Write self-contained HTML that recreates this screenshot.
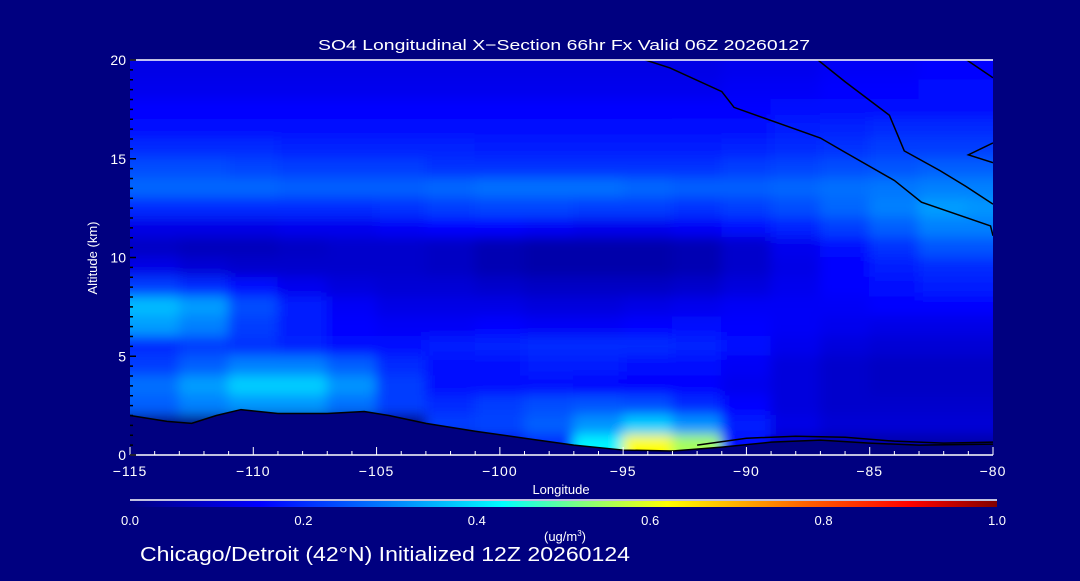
<!DOCTYPE html>
<html><head><meta charset="utf-8">
<style>
body{margin:0;background:#000080;width:1080px;height:576px;overflow:hidden;font-family:"Liberation Sans",sans-serif;}
svg text{fill:#fff;font-family:"Liberation Sans",sans-serif;}
</style></head>
<body>
<svg id="chart" width="1080" height="576" xmlns="http://www.w3.org/2000/svg">
<defs>
<filter id="blur" x="-0.1" y="-0.1" width="1.2" height="1.2"><feGaussianBlur stdDeviation="6"/></filter>
<clipPath id="plotclip"><rect x="130" y="60" width="863" height="395"/></clipPath>
<linearGradient id="cbar" x1="0" x2="1" y1="0" y2="0">
<stop offset="0" stop-color="#000080"/><stop offset="0.15" stop-color="#0000ff"/><stop offset="0.3" stop-color="#0080ff"/><stop offset="0.43" stop-color="#00ffff"/><stop offset="0.52" stop-color="#80ff80"/><stop offset="0.62" stop-color="#ffff00"/><stop offset="0.78" stop-color="#ff6000"/><stop offset="0.9" stop-color="#ff0000"/><stop offset="1" stop-color="#800000"/>
</linearGradient>
</defs>
<rect x="130" y="60" width="863" height="395" fill="#000080"/>
<g id="cells" clip-path="url(#plotclip)"><g id="cellsInner" filter="url(#blur)"></g></g>
<g id="contours" clip-path="url(#plotclip)"></g>
<g id="axes"></g>
<text x="318" y="50" font-size="15" textLength="492" lengthAdjust="spacingAndGlyphs">SO4 Longitudinal X−Section 66hr  Fx Valid 06Z 20260127</text>
<text x="97" y="258" font-size="13" text-anchor="middle" transform="rotate(-90 97 258)">Altitude (km)</text>
<text x="561" y="494" font-size="13" text-anchor="middle">Longitude</text>
<line x1="130" y1="500" x2="997" y2="500" stroke="#fff" stroke-width="1.5"/>
<rect x="130" y="501" width="867" height="6" fill="url(#cbar)"/>
<g id="cbticks"></g>
<text x="565" y="541" font-size="13" text-anchor="middle">(ug/m<tspan dy="-5" font-size="8">3</tspan><tspan dy="5">)</tspan></text>
<text x="140" y="561" font-size="20" textLength="490" lengthAdjust="spacingAndGlyphs" fill="#fff">Chicago/Detroit (42°N) Initialized 12Z 20260124</text>
</svg>
<script>
const lonEdges=[-115,-113,-111,-109,-107,-105,-103,-101,-99,-97,-95,-93,-91,-89,-87,-85,-83,-81,-80];
const altRows=[19,18,17,16,15,14,13,12,11,10,9,8,7,6,5,4,3,2,1,0];
const so4=[
[0.12,0.12,0.12,0.12,0.12,0.12,0.12,0.12,0.12,0.12,0.12,0.12,0.13,0.13,0.14,0.14,0.15,0.15],
[0.13,0.13,0.13,0.13,0.13,0.13,0.13,0.13,0.13,0.13,0.13,0.13,0.14,0.14,0.15,0.15,0.16,0.16],
[0.15,0.15,0.15,0.15,0.15,0.15,0.15,0.15,0.15,0.15,0.15,0.15,0.15,0.16,0.16,0.17,0.17,0.17],
[0.16,0.16,0.16,0.16,0.16,0.16,0.16,0.16,0.16,0.16,0.16,0.17,0.17,0.18,0.19,0.20,0.20,0.20],
[0.20,0.20,0.20,0.19,0.19,0.19,0.19,0.18,0.18,0.18,0.18,0.18,0.19,0.20,0.21,0.22,0.22,0.22],
[0.24,0.24,0.23,0.22,0.22,0.22,0.21,0.21,0.21,0.21,0.21,0.21,0.22,0.23,0.24,0.25,0.26,0.26],
[0.27,0.27,0.27,0.26,0.26,0.26,0.27,0.28,0.28,0.28,0.27,0.26,0.26,0.27,0.28,0.29,0.30,0.30],
[0.20,0.20,0.20,0.20,0.20,0.21,0.22,0.23,0.23,0.22,0.22,0.21,0.22,0.24,0.27,0.30,0.33,0.32],
[0.12,0.12,0.12,0.13,0.13,0.14,0.15,0.15,0.14,0.13,0.13,0.14,0.16,0.19,0.22,0.26,0.30,0.30],
[0.08,0.07,0.07,0.08,0.09,0.09,0.08,0.06,0.05,0.05,0.05,0.06,0.09,0.13,0.17,0.21,0.25,0.25],
[0.12,0.10,0.09,0.09,0.09,0.09,0.08,0.06,0.05,0.05,0.05,0.06,0.09,0.12,0.15,0.18,0.20,0.20],
[0.22,0.20,0.16,0.13,0.11,0.10,0.10,0.09,0.08,0.08,0.08,0.09,0.11,0.13,0.15,0.17,0.18,0.18],
[0.36,0.33,0.24,0.18,0.14,0.12,0.12,0.12,0.11,0.11,0.12,0.13,0.14,0.14,0.14,0.15,0.15,0.15],
[0.33,0.30,0.22,0.18,0.15,0.14,0.14,0.15,0.14,0.14,0.15,0.16,0.15,0.14,0.13,0.12,0.12,0.12],
[0.20,0.22,0.21,0.19,0.17,0.17,0.18,0.19,0.20,0.20,0.20,0.19,0.16,0.13,0.11,0.10,0.10,0.10],
[0.22,0.26,0.30,0.30,0.26,0.20,0.17,0.17,0.18,0.18,0.17,0.16,0.14,0.11,0.09,0.08,0.08,0.08],
[0.28,0.33,0.38,0.38,0.32,0.22,0.17,0.17,0.16,0.15,0.15,0.15,0.13,0.11,0.09,0.08,0.08,0.08],
[0.26,0.30,0.32,0.32,0.28,0.22,0.20,0.22,0.24,0.25,0.24,0.20,0.15,0.11,0.09,0.09,0.09,0.09],
[0.00,0.00,0.00,0.00,0.00,0.00,0.22,0.23,0.26,0.32,0.38,0.32,0.18,0.12,0.10,0.10,0.10,0.10],
[0.00,0.00,0.00,0.00,0.00,0.00,0.00,0.12,0.20,0.42,0.62,0.55,0.16,0.07,0.05,0.05,0.05,0.05]
];
const xTicks=[-115,-110,-105,-100,-95,-90,-85,-80];
const yTicks=[0,5,10,15,20];
const cbTicks=[0.0,0.2,0.4,0.6,0.8,1.0];
const contour1=[[-94.6,20.2],[-93.1,19.6],[-91,18.4],[-90.5,17.6],[-87,16.05],[-86.1,15.4],[-84,13.9],[-82.9,12.8],[-80.1,11.6],[-80,11.1]];
const contour2=[[-87.3,20.2],[-86,18.9],[-84.2,17.2],[-83.6,15.4],[-82.15,14.4],[-81.1,13.6],[-80,12.7]];
const contour3=[[-81.3,20.2],[-80,19.1]];
const contour4=[[-80,15.8],[-81,15.2],[-80,14.8]];
const contour5=[[-92,0.5],[-90,0.85],[-88,0.95],[-86,0.9],[-84,0.7],[-82,0.6],[-80,0.65]];
const terrain=[[-115,2.0],[-113.5,1.7],[-112.5,1.6],[-111.5,2.0],[-110.5,2.3],[-109,2.1],[-107,2.1],[-105.5,2.2],[-104.5,2.0],[-103,1.6],[-101,1.2],[-99,0.85],[-97,0.5],[-95,0.25],[-93,0.2],[-91,0.4],[-89,0.65],[-87,0.75],[-85,0.6],[-83,0.5],[-80,0.55]];

const X0=130,X1=993,Y0=455,Y1=60;
const xs=l=>X0+(l+115)/35*(X1-X0);
const ys=a=>Y0-a/20*(Y0-Y1);
const NS="http://www.w3.org/2000/svg";
function lerp(a,b,t){return a+(b-a)*t;}
const stops=[[0,[0,0,128]],[0.15,[0,0,255]],[0.3,[0,128,255]],[0.43,[0,255,255]],[0.52,[128,255,128]],[0.62,[255,255,0]],[0.78,[255,96,0]],[0.9,[255,0,0]],[1,[128,0,0]]];
function cmap(v){for(let i=1;i<stops.length;i++){if(v<=stops[i][0]){const t=(v-stops[i-1][0])/(stops[i][0]-stops[i-1][0]);const a=stops[i-1][1],b=stops[i][1];return `rgb(${Math.round(lerp(a[0],b[0],t))},${Math.round(lerp(a[1],b[1],t))},${Math.round(lerp(a[2],b[2],t))})`;}}return "rgb(128,0,0)";}
const cells=document.getElementById('cellsInner');
const nR=so4.length,nC=lonEdges.length-1;
so4.forEach((row,r)=>{row.forEach((v,c)=>{
  const el=document.createElementNS(NS,'rect');
  
  
  let x0=xs(lonEdges[c]),x1=xs(lonEdges[c+1]);
  let yt=ys(altRows[r]+1),yb=ys(altRows[r]);
  if(c===0)x0-=30; if(c===nC-1)x1+=30;
  if(r===0)yt-=30; if(r===nR-1)yb+=30;
  el.setAttribute('x',x0-0.5);el.setAttribute('y',yt-0.5);
  el.setAttribute('width',x1-x0+1);el.setAttribute('height',yb-yt+1);
  el.setAttribute('fill',cmap(v));
  cells.appendChild(el);
});});
const cg=document.getElementById('contours');
const mask=document.createElementNS(NS,'polygon');


mask.setAttribute('points',terrain.map(q=>xs(q[0])+','+ys(q[1])).join(' ')+` ${X1},${Y0} ${X0},${Y0}`);
mask.setAttribute('fill','#000080');
cg.appendChild(mask);
function line(pts,name,dash,w){const p=document.createElementNS(NS,'polyline');
  
  
  p.setAttribute('points',pts.map(q=>xs(q[0])+','+ys(q[1])).join(' '));
  p.setAttribute('fill','none');p.setAttribute('stroke','#000');p.setAttribute('stroke-width',w);
  if(dash)p.setAttribute('stroke-dasharray',dash);cg.appendChild(p);}
line(contour1,'contour-line','',1.5);
line(contour2,'contour-line','',1.5);
line(contour3,'contour-line','',1.5);
line(contour4,'contour-line','',1.5);
line(contour5,'contour-line','',1.5);
line(terrain,'terrain-contour','',1.5);
const ax=document.getElementById('axes');
function mk(tag,attrs,name,txt){const e=document.createElementNS(NS,tag);for(const k in attrs)e.setAttribute(k,attrs[k]);
  
  
  if(txt!==undefined)e.textContent=txt;ax.appendChild(e);return e;}
mk('line',{x1:X0,y1:Y0,x2:X1,y2:Y0,stroke:'#fff','stroke-width':1.5},'x-axis-line');
mk('line',{x1:X0,y1:Y1,x2:X1,y2:Y1,stroke:'#fff','stroke-width':1.5},'top-axis-line');
for(let l=-115;l<=-80;l++){const maj=(l%5===0);
  mk('line',{x1:xs(l),y1:Y0,x2:xs(l),y2:Y0-(maj?8:4),stroke:'#fff'},'x-tick');}
xTicks.forEach(l=>mk('text',{x:xs(l),y:476,'font-size':14,'letter-spacing':1,'text-anchor':'middle'},'x-tick-label',(l<0?'−':'')+Math.abs(l)));
for(let a=0;a<=20;a+=0.5){mk('line',{x1:X0,y1:ys(a),x2:X0+(a%5===0?6:3),y2:ys(a),stroke:'#000','stroke-width':1.5},'y-tick');}
yTicks.forEach(a=>mk('text',{x:126,y:ys(a)+5,'font-size':14,'text-anchor':'end'},'y-tick-label',String(a)));
cbTicks.forEach(v=>mk('text',{x:130+v*867,y:525,'font-size':13,'text-anchor':'middle'},'colorbar-tick-label',v.toFixed(1)));
</script>
</body></html>
